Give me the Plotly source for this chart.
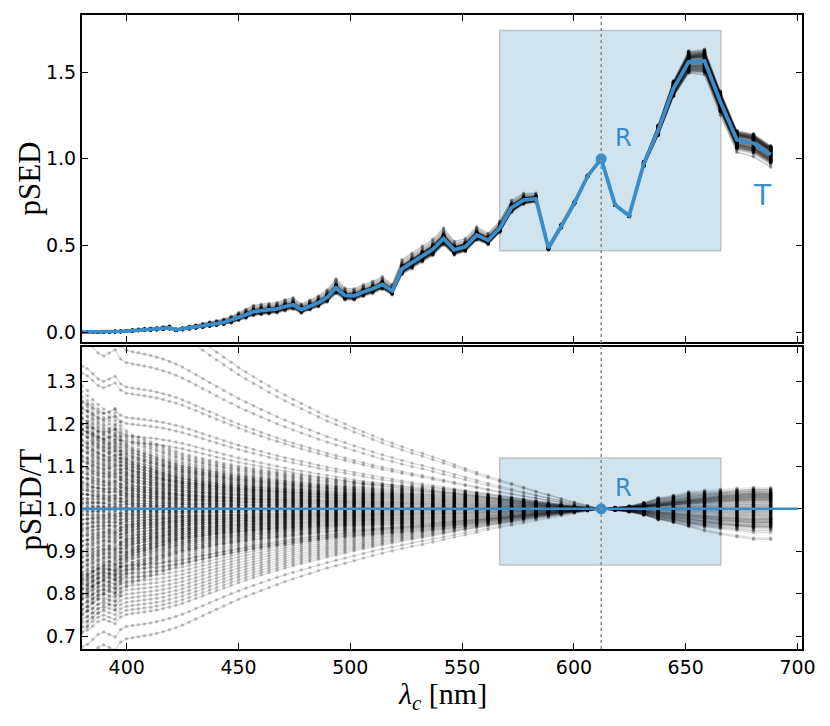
import numpy as np
import plotly.graph_objects as go

# filter centre wavelengths [nm]
wavelengths = [380.0, 382.4, 384.8, 387.2, 389.7, 392.2, 394.8, 397.3, 399.9,
               402.6, 405.2, 407.9, 410.7, 413.4, 416.3, 419.1, 422.0, 424.9,
               427.9, 430.9, 434.0, 437.1, 440.2, 443.4, 446.7, 450.0, 453.3,
               456.7, 460.1, 463.6, 467.2, 470.8, 474.4, 478.1, 481.9, 485.7,
               489.6, 493.6, 497.6, 501.7, 505.8, 510.0, 514.3, 518.7, 523.1,
               527.6, 532.2, 536.9, 541.7, 546.5, 551.4, 556.5, 561.6, 566.8,
               572.1, 577.5, 583.0, 588.6, 594.3, 600.2, 606.1, 612.2, 618.4,
               624.7, 631.2, 637.7, 644.5, 651.3, 658.4, 665.5, 672.9, 680.3,
               688.0]

# target pSED (T), normalised at the reference band R
target = [0.000, 0.000, 0.000, 0.001, 0.001, 0.002, 0.003, 0.004, 0.006,
          0.009, 0.012, 0.014, 0.016, 0.018, 0.021, 0.025, 0.013, 0.018,
          0.024, 0.030, 0.036, 0.043, 0.049, 0.056, 0.068, 0.085, 0.100,
          0.118, 0.124, 0.128, 0.134, 0.148, 0.158, 0.130, 0.150, 0.170,
          0.200, 0.255, 0.212, 0.210, 0.232, 0.250, 0.275, 0.238, 0.365,
          0.400, 0.440, 0.478, 0.540, 0.475, 0.493, 0.560, 0.530, 0.600,
          0.718, 0.762, 0.770, 0.485, 0.610, 0.745, 0.900, 1.000, 0.735,
          0.672, 0.970, 1.165, 1.405, 1.560, 1.565, 1.330, 1.110, 1.090,
          1.025]

# half width of the dense core of the pSED/T ensemble
core_width = [0.25, 0.24, 0.22, 0.21, 0.20, 0.19, 0.20, 0.17, 0.15,
              0.14, 0.135, 0.13, 0.125, 0.12, 0.115, 0.11, 0.105, 0.10,
              0.097, 0.094, 0.091, 0.088, 0.085, 0.082, 0.080, 0.077, 0.075,
              0.073, 0.071, 0.069, 0.067, 0.065, 0.063, 0.061, 0.059, 0.057,
              0.055, 0.053, 0.052, 0.051, 0.050, 0.049, 0.048, 0.047, 0.046,
              0.045, 0.044, 0.042, 0.040, 0.038, 0.036, 0.033, 0.030, 0.027,
              0.023, 0.019, 0.015, 0.011, 0.008, 0.005, 0.003, 0.0, 0.003,
              0.006, 0.014, 0.025, 0.030, 0.038, 0.040, 0.042, 0.044, 0.046,
              0.045]

# deviation of the outermost (tilted) ensemble members
tilt_width = [0.56, 0.55, 0.53, 0.51, 0.50, 0.51, 0.52, 0.49, 0.478,
              0.474, 0.471, 0.467, 0.463, 0.458, 0.452, 0.445, 0.437, 0.428,
              0.417, 0.405, 0.393, 0.381, 0.369, 0.357, 0.345, 0.333, 0.322,
              0.311, 0.300, 0.289, 0.278, 0.268, 0.258, 0.248, 0.238, 0.228,
              0.218, 0.209, 0.200, 0.190, 0.181, 0.172, 0.163, 0.155, 0.146,
              0.138, 0.131, 0.122, 0.113, 0.104, 0.095, 0.086, 0.077, 0.068,
              0.060, 0.051, 0.042, 0.033, 0.024, 0.016, 0.008, 0.0, -0.004,
              -0.008, -0.014, -0.022, -0.032, -0.042, -0.052, -0.060, -0.066, -0.072,
              -0.072]

# ensemble members: weight on core width / weight on tilt
core_a = [-1.0, -0.95, -0.9, -0.84, -0.8, -0.75, -0.7, -0.66, -0.6, -0.55,
          -0.5, -0.46, -0.4, -0.35, -0.3, -0.26, -0.2, -0.15, -0.1, -0.06,
          -0.02, 0.02, 0.06, 0.1, 0.14, 0.2, 0.24, 0.3, 0.34, 0.4,
          0.45, 0.5, 0.55, 0.6, 0.64, 0.7, 0.75, 0.8, 0.86, 0.9,
          0.95, 1.0]
core_b = [-0.07, 0.0, 0.07]
tilt_b = [1.0, 0.95, 0.78, 0.72, 0.6, 0.57, 0.45, 0.42, 0.36, 0.33,
          -0.28, -0.3, -0.32, -0.34, -0.36, -0.38, -0.4, -0.42, -0.44, -0.46,
          -0.48, -0.5, -0.52, -0.58, -0.64]

R_WL = 612.2
BLUE = "#3a8dc8"
BOX_X = (566.8, 665.7)
BOX_TOP_Y = (0.47, 1.74)
BOX_BOT_Y = (0.868, 1.12)

wl = np.array(wavelengths)
T = np.array(target)
h = np.array(core_width)
g = np.array(tilt_width)

members = [(a, b, True) for a in core_a for b in core_b] + [(0.0, b, False) for b in tilt_b]

fig = go.Figure()
for a, b, core in members:
    ratio = 1 + a * h + b * g
    lc = 'rgba(0,0,0,0.07)' if core else 'rgba(0,0,0,0.14)'
    mc = 'rgba(0,0,0,0.25)' if core else 'rgba(0,0,0,0.22)'
    common = dict(mode='lines+markers', line=dict(color=lc, width=1.3),
                  marker=dict(size=3.5, color=mc), hoverinfo='skip', showlegend=False)
    fig.add_trace(go.Scatter(x=wl, y=ratio, xaxis='x', yaxis='y', **common))
    fig.add_trace(go.Scatter(x=wl, y=T * ratio, xaxis='x2', yaxis='y2', **common))

# target curve and reference point
fig.add_trace(go.Scatter(x=wl, y=T, xaxis='x2', yaxis='y2', mode='lines',
                         line=dict(color=BLUE, width=3.8), showlegend=False))
r_idx = wavelengths.index(R_WL)
fig.add_trace(go.Scatter(x=[wl[r_idx]], y=[T[r_idx]], xaxis='x2', yaxis='y2', mode='markers',
                         marker=dict(color=BLUE, size=11), showlegend=False))
fig.add_trace(go.Scatter(x=[wl[r_idx]], y=[1.0], xaxis='x', yaxis='y', mode='markers',
                         marker=dict(color=BLUE, size=11), showlegend=False))

box_style = dict(type='rect', fillcolor='rgba(52,138,189,0.23)',
                 line=dict(color='rgba(175,175,175,0.7)', width=1.5), layer='below')
fig.add_shape(xref='x2', yref='y2', x0=BOX_X[0], x1=BOX_X[1], y0=BOX_TOP_Y[0], y1=BOX_TOP_Y[1], **box_style)
fig.add_shape(xref='x', yref='y', x0=BOX_X[0], x1=BOX_X[1], y0=BOX_BOT_Y[0], y1=BOX_BOT_Y[1], **box_style)
fig.add_shape(type='line', xref='x', yref='y', x0=380, x1=700, y0=1, y1=1,
              line=dict(color=BLUE, width=2.5), layer='above')
fig.add_shape(type='line', xref='x', yref='paper', x0=R_WL, x1=R_WL, y0=0, y1=1,
              line=dict(color='#888888', width=1.5, dash='dot'), layer='above')

label_font = dict(family='DejaVu Sans', color=BLUE)
fig.add_annotation(x=622, y=1.12, xref='x2', yref='y2', text='R', showarrow=False,
                   font=dict(size=24, **label_font))
fig.add_annotation(x=622, y=1.05, xref='x', yref='y', text='R', showarrow=False,
                   font=dict(size=24, **label_font))
fig.add_annotation(x=684.5, y=0.79, xref='x2', yref='y2', text='T', showarrow=False,
                   font=dict(size=28, **label_font))

serif = dict(family='Liberation Serif', size=31, color='black')
fig.add_annotation(x=0, y=0.742, xref='paper', yref='paper', xshift=-52, xanchor='center',
                   yanchor='middle', text='pSED', textangle=-90, showarrow=False, font=serif)
fig.add_annotation(x=0, y=0.236, xref='paper', yref='paper', xshift=-52, xanchor='center',
                   yanchor='middle', text='pSED/T', textangle=-90, showarrow=False, font=serif)
fig.add_annotation(x=0.5, y=0, xref='paper', yref='paper', yshift=-47, xanchor='center',
                   yanchor='middle', text='<i>λ</i><sub><i>c</i></sub> [nm]', showarrow=False,
                   font=dict(family='Liberation Serif', size=30, color='black'))

axis_style = dict(showline=True, linecolor='black', linewidth=2, mirror='ticks', ticks='inside',
                  ticklen=6, tickwidth=1.3, tickcolor='black', showgrid=False, zeroline=False,
                  tickfont=dict(family='DejaVu Sans', size=19, color='black'))
# the page body adds an 8 px margin, so the figure is 8 px smaller than the window
fig.update_layout(
    width=822, height=718, plot_bgcolor='white', paper_bgcolor='white',
    margin=dict(l=74, r=28, t=5, b=77),
    xaxis=dict(range=[380, 702], domain=[0, 1], anchor='y', tickvals=[400, 450, 500, 550, 600, 650, 700],
               **axis_style),
    yaxis=dict(range=[0.67, 1.38], domain=[0, 0.4756], anchor='x', dtick=0.1, tickformat='.1f', **axis_style),
    xaxis2=dict(range=[380, 702], domain=[0, 1], anchor='y2', matches='x', showticklabels=False,
                tickvals=[400, 450, 500, 550, 600, 650, 700], **axis_style),
    yaxis2=dict(range=[-0.054, 1.83], domain=[0.485, 1], anchor='x2', tickvals=[0, 0.5, 1.0, 1.5],
                tickformat='.1f', **axis_style),
)

fig.write_html("out.html")
